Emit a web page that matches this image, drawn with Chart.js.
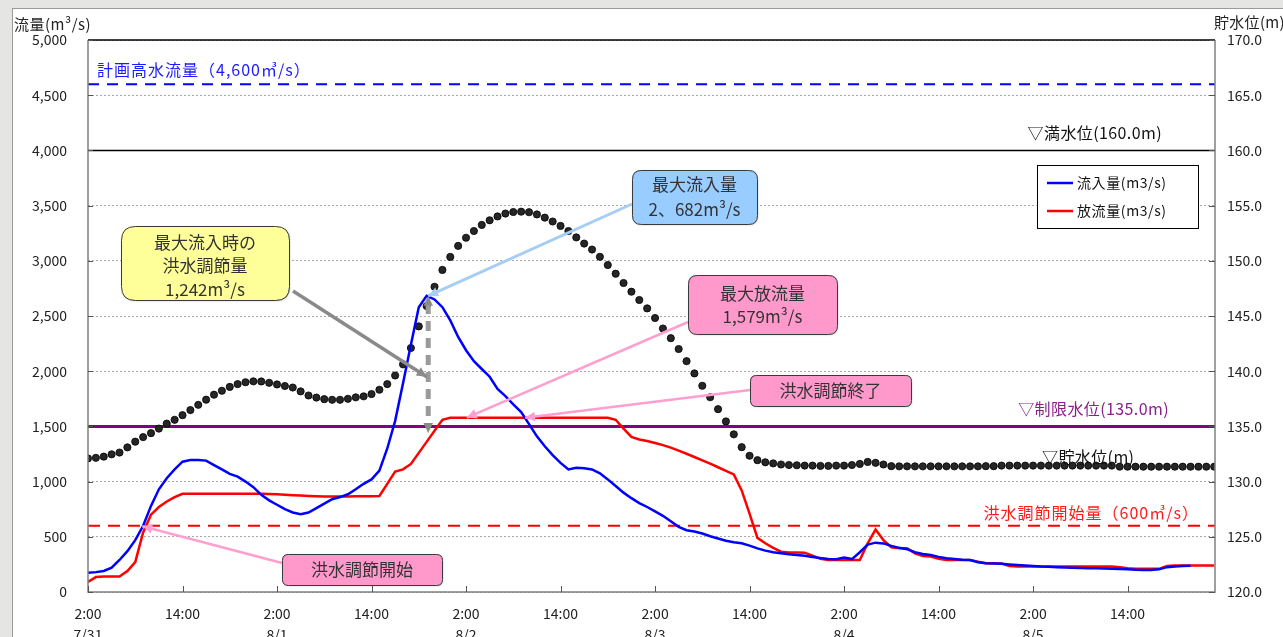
<!DOCTYPE html>
<html><head><meta charset="utf-8">
<script src="https://cdn.jsdelivr.net/npm/chart.js@4/dist/chart.umd.min.js"></script>
<style>
html,body{margin:0;padding:0;background:#e5e5e3;overflow:hidden;}
#c{position:absolute;left:0;top:0;}
</style></head><body>
<canvas id="c" width="1283" height="637"></canvas>
<script>
// ---- data (hourly from 7/31 2:00) ----
const tickHours = [0,12,24,36,48,60,72,84,96,108,120,132];
const tickTimes = ["2:00","14:00","2:00","14:00","2:00","14:00","2:00","14:00","2:00","14:00","2:00","14:00"];
const tickDates = ["7/31","","8/1","","8/2","","8/3","","8/4","","8/5",""];

const inflow = [175,180,190,220,290,370,470,600,780,930,1030,1110,1180,1195,1195,1190,1150,1110,1070,1045,
1000,950,880,830,790,750,720,705,720,760,800,840,860,885,930,980,1020,1100,1300,1550,
1890,2240,2580,2682,2650,2580,2460,2310,2190,2090,2020,1950,1840,1775,1700,1630,1520,1410,1320,1240,
1170,1110,1125,1120,1110,1075,1020,960,900,850,805,770,730,690,640,590,560,548,530,505,
485,465,450,442,420,395,375,360,350,342,335,328,318,308,300,297,312,298,360,430,
447,440,418,400,388,360,345,336,318,305,298,292,290,270,260,258,255,250,245,240,
235,230,228,225,222,220,218,216,215,213,210,208,205,202,200,200,205,225,230,235,238];

const outflow = [90,135,140,140,140,190,270,540,700,770,820,860,890,890,890,890,890,890,890,890,
890,890,890,888,885,880,876,873,870,868,865,865,866,866,867,868,868,870,980,1090,
1111,1160,1260,1360,1460,1560,1579,1579,1579,1579,1579,1579,1579,1579,1579,1579,1579,1579,1579,1579,
1579,1579,1579,1579,1579,1579,1579,1560,1480,1405,1382,1368,1350,1330,1308,1280,1252,1223,1192,1162,
1130,1098,1065,920,710,490,442,400,365,358,357,356,330,300,290,290,290,290,290,440,
565,470,405,396,396,350,325,321,300,290,290,290,290,275,260,260,258,235,232,232,
232,232,232,232,232,232,232,232,232,232,232,225,215,210,210,210,210,235,240,240,
240,240,240,240];

const waterLevel = [132.1,132.15,132.26,132.47,132.63,133.1,133.62,134.03,134.39,134.8,135.25,135.6,136.02,136.48,136.95,137.42,137.87,138.23,138.58,138.83,
139.0,139.08,139.07,138.95,138.8,138.66,138.52,138.17,137.8,137.61,137.47,137.41,137.41,137.5,137.63,137.72,137.93,138.32,138.83,139.61,
140.62,142.1,144.06,145.9,147.65,149.17,150.35,151.35,152.09,152.7,153.25,153.67,154.02,154.28,154.42,154.45,154.4,154.2,153.91,153.56,
153.16,152.7,152.12,151.56,151.02,150.36,149.62,148.83,147.99,147.2,146.45,145.69,144.82,143.87,142.99,142.01,140.91,139.8,138.68,137.64,
136.56,135.45,134.28,133.12,132.34,131.94,131.75,131.65,131.55,131.5,131.48,131.45,131.45,131.42,131.42,131.45,131.45,131.5,131.6,131.78,
131.7,131.55,131.4,131.38,131.38,131.38,131.38,131.38,131.38,131.38,131.38,131.38,131.38,131.38,131.4,131.4,131.45,131.45,131.45,131.45,
131.45,131.45,131.45,131.45,131.45,131.45,131.45,131.45,131.45,131.45,131.45,131.35,131.35,131.35,131.35,131.35,131.35,131.35,131.35,131.35,
131.35,131.35,131.35,131.35];

const planHighFlow = 4600;    // 計画高水流量
const floodStartFlow = 600;   // 洪水調節開始量
const fullLevel = 160.0;      // 満水位
const limitLevel = 135.0;     // 制限水位
const peakInflow = 2682, peakHour = 43.2, controlAtPeak = 1242, maxOutflow = 1579;

const X_MAX = 143.1;
const hours = Array.from({length: 144}, (_, i) => i);
const pts = arr => arr.map((v, i) => ({x: hours[i], y: v}));
const flat = v => [{x: 0, y: v}, {x: X_MAX, y: v}];

const FONT = '"Noto Sans CJK JP","Noto Sans",sans-serif';
Chart.defaults.font.family = FONT;

function arrowHead(ctx, x1, y1, x2, y2, size, color) {
  const a = Math.atan2(y2 - y1, x2 - x1);
  ctx.beginPath();
  ctx.moveTo(x2, y2);
  ctx.lineTo(x2 - size * Math.cos(a - 0.45), y2 - size * Math.sin(a - 0.45));
  ctx.lineTo(x2 - size * Math.cos(a + 0.45), y2 - size * Math.sin(a + 0.45));
  ctx.closePath();
  ctx.fillStyle = color; ctx.fill();
}
function rrect(ctx, x, y, w, h, r) {
  ctx.beginPath();
  ctx.moveTo(x + r, y); ctx.lineTo(x + w - r, y); ctx.quadraticCurveTo(x + w, y, x + w, y + r);
  ctx.lineTo(x + w, y + h - r); ctx.quadraticCurveTo(x + w, y + h, x + w - r, y + h);
  ctx.lineTo(x + r, y + h); ctx.quadraticCurveTo(x, y + h, x, y + h - r);
  ctx.lineTo(x, y + r); ctx.quadraticCurveTo(x, y, x + r, y); ctx.closePath();
}

const callouts = [
  {lines: ["最大流入時の", "洪水調節量", "1,242m³/s"], box: [121, 226, 168, 74], fill: "#ffff99", r: 14, from: [293, 291], tip: [43.0, 1950], color: "#8a8a8a", lw: 3.5, lh: 23.5, dy: 3},
  {lines: ["最大流入量", "2、682m³/s"], box: [632, 170, 125, 54], fill: "#99ccff", r: 9, from: [632, 204], tip: [peakHour, peakInflow], color: "#a6cdf3", lw: 3, lh: 25, dy: 0},
  {lines: ["最大放流量", "1,579m³/s"], box: [688, 275, 149, 59], fill: "#ff99cc", r: 9, from: [688, 322], tip: [48.1, maxOutflow], color: "#ff9fd0", lw: 2.5, lh: 23, dy: 1},
  {lines: ["洪水調節終了"], box: [750, 375, 161, 31], fill: "#ff99cc", r: 6, from: [750, 390], tip: [55.5, maxOutflow], color: "#ff9fd0", lw: 2.5, lh: 23, dy: 0},
  {lines: ["洪水調節開始"], box: [282, 554, 160, 31], fill: "#ff99cc", r: 6, from: [282, 563], tip: [6.9, floodStartFlow - 5], color: "#ff9fd0", lw: 2.5, lh: 23, dy: 0}
];

function spaced(ctx, text, x, y, align, sp) {
  ctx.letterSpacing = sp + 'px';
  ctx.textAlign = align;
  ctx.fillText(text, x, y);
  ctx.letterSpacing = '0px';
}

const decor = {
  id: 'decor',
  beforeDraw(chart) {
    const ctx = chart.ctx;
    ctx.save();
    ctx.fillStyle = '#ffffff';
    ctx.fillRect(12, 8, 1271, 629);
    ctx.strokeStyle = '#9a9a9a'; ctx.lineWidth = 1;
    ctx.strokeRect(12.5, 8.5, 1280, 640);
    ctx.restore();
  },
  afterDraw(chart) {
    const ctx = chart.ctx, a = chart.chartArea;
    const xs = chart.scales.x, ys = chart.scales.y, y2 = chart.scales.y2;
    ctx.save();
    // frame
    ctx.strokeStyle = '#808080'; ctx.lineWidth = 1.5;
    ctx.beginPath();
    ctx.moveTo(a.left, a.top); ctx.lineTo(a.left, a.bottom); ctx.lineTo(a.right, a.bottom); ctx.lineTo(a.right, a.top);
    ctx.stroke();
    ctx.strokeStyle = '#000'; ctx.lineWidth = 1.5;
    ctx.beginPath(); ctx.moveTo(a.left, a.top); ctx.lineTo(a.right, a.top); ctx.stroke();
    // inward ticks
    ctx.strokeStyle = '#555'; ctx.lineWidth = 1;
    for (let v = 0; v <= 5000; v += 500) {
      const y = Math.round(ys.getPixelForValue(v)) + 0.5;
      ctx.beginPath(); ctx.moveTo(a.left, y); ctx.lineTo(a.left + 5, y); ctx.stroke();
      ctx.beginPath(); ctx.moveTo(a.right - 6, y); ctx.lineTo(a.right, y); ctx.stroke();
    }
    tickHours.forEach(h => {
      const x = Math.round(xs.getPixelForValue(h)) + 0.5;
      ctx.beginPath(); ctx.moveTo(x, a.bottom); ctx.lineTo(x, a.bottom - 6); ctx.stroke();
    });
    // axis titles
    ctx.fillStyle = '#222'; ctx.textBaseline = 'middle';
    ctx.font = '15px ' + FONT;
    spaced(ctx, '流量(m³/s)', 14, 24, 'left', 0.5);
    spaced(ctx, '貯水位(m)', 1214, 22, 'left', 0.3);
    // reference line labels
    ctx.font = '16px ' + FONT;
    ctx.fillStyle = '#1a1aff';
    spaced(ctx, '計画高水流量（4,600㎥/s）', a.left + 9, ys.getPixelForValue(planHighFlow) - 14, 'left', 1);
    ctx.fillStyle = '#111';
    spaced(ctx, '▽満水位(160.0m)', a.right - 53, y2.getPixelForValue(fullLevel) - 17, 'right', 0.4);
    ctx.fillStyle = '#8a1f8a';
    spaced(ctx, '▽制限水位(135.0m)', a.right - 46, y2.getPixelForValue(limitLevel) - 17, 'right', 0.4);
    ctx.fillStyle = '#ff1a1a';
    spaced(ctx, '洪水調節開始量（600㎥/s）', a.right - 16, ys.getPixelForValue(floodStartFlow) - 13, 'right', 1);
    ctx.fillStyle = '#111';
    spaced(ctx, '▽貯水位(m)', 1042, 457, 'left', 0.4);
    // legend
    ctx.fillStyle = '#fff'; ctx.fillRect(1037, 165, 161, 63);
    ctx.strokeStyle = '#000'; ctx.lineWidth = 1; ctx.strokeRect(1037.5, 165.5, 161, 63);
    ctx.lineWidth = 2.5;
    ctx.strokeStyle = '#0000ff'; ctx.beginPath(); ctx.moveTo(1047, 183); ctx.lineTo(1073, 183); ctx.stroke();
    ctx.strokeStyle = '#ff0000'; ctx.beginPath(); ctx.moveTo(1047, 211); ctx.lineTo(1073, 211); ctx.stroke();
    ctx.fillStyle = '#111'; ctx.font = '14px ' + FONT;
    spaced(ctx, '流入量(m3/s)', 1077, 183, 'left', 0.6);
    spaced(ctx, '放流量(m3/s)', 1077, 211, 'left', 0.6);
    // dashed control arrow at inflow peak
    const px = xs.getPixelForValue(peakHour);
    const pTop = ys.getPixelForValue(peakInflow), pBot = ys.getPixelForValue(peakInflow - controlAtPeak);
    ctx.strokeStyle = '#9a9a9a'; ctx.lineWidth = 5; ctx.setLineDash([10, 7]);
    ctx.beginPath(); ctx.moveTo(px, pTop + 8); ctx.lineTo(px, pBot - 6); ctx.stroke();
    ctx.setLineDash([]);
    arrowHead(ctx, px, pTop + 20, px, pTop, 11, '#8a8a8a');
    arrowHead(ctx, px, pBot - 20, px, pBot, 11, '#8a8a8a');
    // callouts
    callouts.forEach(c => {
      const tx = xs.getPixelForValue(c.tip[0]), ty = ys.getPixelForValue(c.tip[1]);
      ctx.strokeStyle = c.color; ctx.lineWidth = c.lw;
      ctx.beginPath(); ctx.moveTo(c.from[0], c.from[1]); ctx.lineTo(tx, ty); ctx.stroke();
      arrowHead(ctx, c.from[0], c.from[1], tx, ty, 11, c.color);
      const [bx, by, bw, bh] = c.box;
      ctx.save();
      ctx.shadowColor = 'rgba(0,0,0,0.25)'; ctx.shadowOffsetX = 1; ctx.shadowOffsetY = 1; ctx.shadowBlur = 2;
      rrect(ctx, bx, by, bw, bh, c.r); ctx.fillStyle = c.fill; ctx.fill();
      ctx.restore();
      rrect(ctx, bx + 0.5, by + 0.5, bw, bh, c.r); ctx.strokeStyle = '#3a3a3a'; ctx.lineWidth = 1; ctx.stroke();
      ctx.fillStyle = '#333'; ctx.font = '17px ' + FONT; ctx.textAlign = 'center'; ctx.textBaseline = 'middle';
      const cy = by + bh / 2 + c.dy, n = c.lines.length;
      c.lines.forEach((t, i) => ctx.fillText(t, bx + bw / 2, cy + (i - (n - 1) / 2) * c.lh));
    });
    ctx.restore();
  }
};

new Chart(document.getElementById('c'), {
  type: 'line',
  data: {
    datasets: [
      {label: '流入量(m3/s)', data: pts(inflow), borderColor: '#0000ff', borderWidth: 2.5, pointRadius: 0, yAxisID: 'y', tension: 0},
      {label: '放流量(m3/s)', data: pts(outflow), borderColor: '#ff0000', borderWidth: 2.5, pointRadius: 0, yAxisID: 'y', tension: 0},
      {label: '貯水位(m)', data: pts(waterLevel), showLine: false, pointRadius: 3.6, pointBackgroundColor: '#262626', pointBorderColor: '#000', pointBorderWidth: 0.8, yAxisID: 'y2'},
      {label: '制限水位', data: flat(limitLevel), borderColor: '#800080', borderWidth: 3, pointRadius: 0, yAxisID: 'y2'},
      {label: '満水位', data: flat(fullLevel), borderColor: '#000', borderWidth: 1.5, pointRadius: 0, yAxisID: 'y2'},
      {label: '計画高水流量', data: flat(planHighFlow), borderColor: '#0000ff', borderWidth: 2, borderDash: [11, 8], pointRadius: 0, yAxisID: 'y'},
      {label: '洪水調節開始量', data: flat(floodStartFlow), borderColor: '#ff0000', borderWidth: 2, borderDash: [12, 8], pointRadius: 0, yAxisID: 'y'}
    ]
  },
  options: {
    responsive: false, animation: false, devicePixelRatio: 1,
    layout: {padding: {top: 40, left: 0, right: 0, bottom: 0}},
    plugins: {legend: {display: false}, tooltip: {enabled: false}},
    scales: {
      x: {
        type: 'linear', min: 0, max: X_MAX,
        afterBuildTicks: ax => { ax.ticks = tickHours.map(v => ({value: v})); },
        afterFit: s => { s.height = 45; },
        grid: {display: false, drawTicks: false}, border: {display: false},
        ticks: {
          autoSkip: false, maxRotation: 0, padding: 12, color: '#222',
          font: {size: 14, lineHeight: 1.45},
          callback: v => { const i = tickHours.indexOf(v); return i < 0 ? '' : [tickTimes[i], tickDates[i]]; }
        }
      },
      y: {
        position: 'left', min: 0, max: 5000,
        afterFit: s => { s.width = 88; },
        grid: {color: '#a8a8a8', lineWidth: 1, drawTicks: false},
        border: {display: false, dash: [2, 2]},
        ticks: {stepSize: 500, padding: 21, color: '#222', font: {size: 14},
          callback: v => v.toLocaleString('en-US')}
      },
      y2: {
        position: 'right', min: 120, max: 170,
        afterFit: s => { s.width = 68; },
        grid: {drawOnChartArea: false, drawTicks: false}, border: {display: false},
        ticks: {stepSize: 5, padding: 12, color: '#222', font: {size: 14},
          callback: v => v.toFixed(1)}
      }
    }
  },
  plugins: [decor]
});
</script>
</body></html>
